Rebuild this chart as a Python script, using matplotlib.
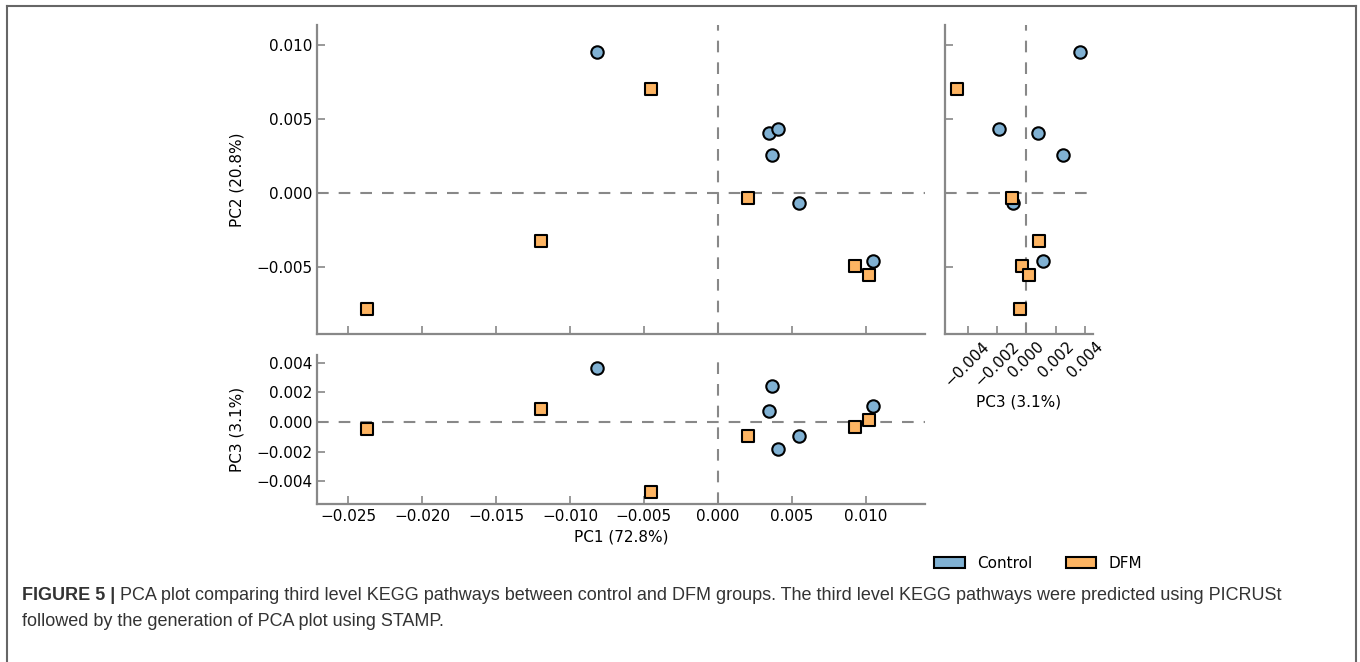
import matplotlib
matplotlib.use("Agg")
import matplotlib.pyplot as plt
from matplotlib.patches import Patch
from matplotlib.lines import Line2D

# PCA scores
control_pc1 = [-0.00818, 0.00343, 0.00408, 0.00363, 0.00547, 0.01050]
control_pc2 = [0.00951, 0.00402, 0.00431, 0.00256, -0.00072, -0.00463]
control_pc3 = [0.00363, 0.00077, -0.00183, 0.00246, -0.00093, 0.00111]

dfm_pc1 = [-0.02369, -0.01193, -0.00453, 0.00201, 0.00928, 0.01023]
dfm_pc2 = [-0.00786, -0.00330, 0.00701, -0.00040, -0.00495, -0.00557]
dfm_pc3 = [-0.00045, 0.00088, -0.00473, -0.00095, -0.00032, 0.00016]

groups = ["Control", "DFM"]
colors = ["#80B1D3", "#FDB462"]
markers = ["o", "s"]

pc1_ticks = [-0.025, -0.020, -0.015, -0.010, -0.005, 0.0, 0.005, 0.010]
pc2_ticks = [-0.005, 0.0, 0.005, 0.010]
pc3_ticks = [-0.004, -0.002, 0.0, 0.002, 0.004]

pc1_label = "PC1 (72.8%)"
pc2_label = "PC2 (20.8%)"
pc3_label = "PC3 (3.1%)"

caption_bold = "FIGURE 5 | "
caption_line1 = ("PCA plot comparing third level KEGG pathways between control and DFM groups. "
                 "The third level KEGG pathways were predicted using PICRUSt")
caption_line2 = "followed by the generation of PCA plot using STAMP."

W, H = 1360, 662
fig = plt.figure(figsize=(W / 100, H / 100), dpi=100)

def box(l, t, r, b):
    return [l / W, 1 - b / H, (r - l) / W, (b - t) / H]

def fmt(vals):
    return [("%.3f" % v).replace("-", "\u2212") for v in vals]

ax_main = fig.add_axes(box(317, 25, 925, 334))
ax_bot = fig.add_axes(box(317, 355, 925, 504))
ax_right = fig.add_axes(box(945, 25, 1093, 334))

spine_col = "#888888"
dash = (0, (5.6, 4.8))
fs = 11

def style(ax):
    for s in ["top", "right"]:
        ax.spines[s].set_visible(False)
    for s in ["left", "bottom"]:
        ax.spines[s].set_color(spine_col)
        ax.spines[s].set_linewidth(1.6)
    ax.tick_params(direction="in", length=6, width=1.2, color=spine_col, labelsize=fs)
    ax.axhline(0, color=spine_col, lw=1.5, ls=dash, zorder=1)
    ax.axvline(0, color=spine_col, lw=1.5, ls=dash, zorder=1)

data = [
    (control_pc1, control_pc2, control_pc3),
    (dfm_pc1, dfm_pc2, dfm_pc3),
]

for (p1, p2, p3), c, m in zip(data, colors, markers):
    kw = dict(s=80, c=c, marker=m, edgecolors="black", linewidths=1.5, zorder=3)
    ax_main.scatter(p1, p2, **kw)
    ax_bot.scatter(p1, p3, **kw)
    ax_right.scatter(p3, p2, **kw)

for ax in [ax_main, ax_bot, ax_right]:
    style(ax)

xlim = (-0.0271, 0.0140)
ylim = (-0.00956, 0.01132)
pc3lim = (-0.00553, 0.00452)

ax_main.set_xlim(xlim)
ax_main.set_ylim(ylim)
ax_main.set_xticks(pc1_ticks)
ax_main.set_xticklabels([])
ax_main.set_yticks(pc2_ticks)
ax_main.set_yticklabels(fmt(pc2_ticks))
ax_main.set_ylabel(pc2_label, fontsize=fs, labelpad=8)

ax_bot.set_xlim(xlim)
ax_bot.set_ylim(pc3lim)
ax_bot.set_xticks(pc1_ticks)
ax_bot.set_xticklabels(fmt(pc1_ticks))
ax_bot.set_yticks(pc3_ticks)
ax_bot.set_yticklabels(fmt(pc3_ticks))
ax_bot.set_xlabel(pc1_label, fontsize=fs)
ax_bot.set_ylabel(pc3_label, fontsize=fs, labelpad=8)

ax_right.set_xlim(pc3lim)
ax_right.set_ylim(ylim)
ax_right.set_yticks(pc2_ticks)
ax_right.set_yticklabels([])
ax_right.set_xticks(pc3_ticks)
ax_right.set_xticklabels(fmt(pc3_ticks), rotation=45)
ax_right.set_xlabel(pc3_label, fontsize=fs)

handles = [Patch(facecolor=c, edgecolor="black", linewidth=1.5) for c in colors]
fig.legend(handles, groups, loc="center", bbox_to_anchor=(1038 / W, 1 - 563 / H),
           ncol=2, frameon=False, fontsize=fs, handlelength=2.0, handleheight=0.7,
           columnspacing=2.2)

# caption
cap_font = ["Liberation Sans", "DejaVu Sans"]
cap_col = "#333333"
cap_fs = 13
t_bold = fig.text(22 / W, 1 - 596 / H, caption_bold, fontsize=cap_fs, fontweight="bold",
                  family=cap_font, color=cap_col, va="center")
fig.canvas.draw()
bb = t_bold.get_window_extent()
fig.text(bb.x1 / W, 1 - 596 / H, caption_line1, fontsize=cap_fs, family=cap_font,
         color=cap_col, va="center")
fig.text(22 / W, 1 - 621 / H, caption_line2, fontsize=cap_fs, family=cap_font,
         color=cap_col, va="center")

# border of the figure box
bcol = "#666666"
for xs, ys in [([7, 7], [6, 700]), ([7, 1356], [6, 6]), ([1356, 1356], [6, 700])]:
    fig.add_artist(Line2D([x / W for x in xs], [1 - y / H for y in ys],
                          transform=fig.transFigure, color=bcol, lw=1.5))

fig.savefig("out.png", dpi=100)
